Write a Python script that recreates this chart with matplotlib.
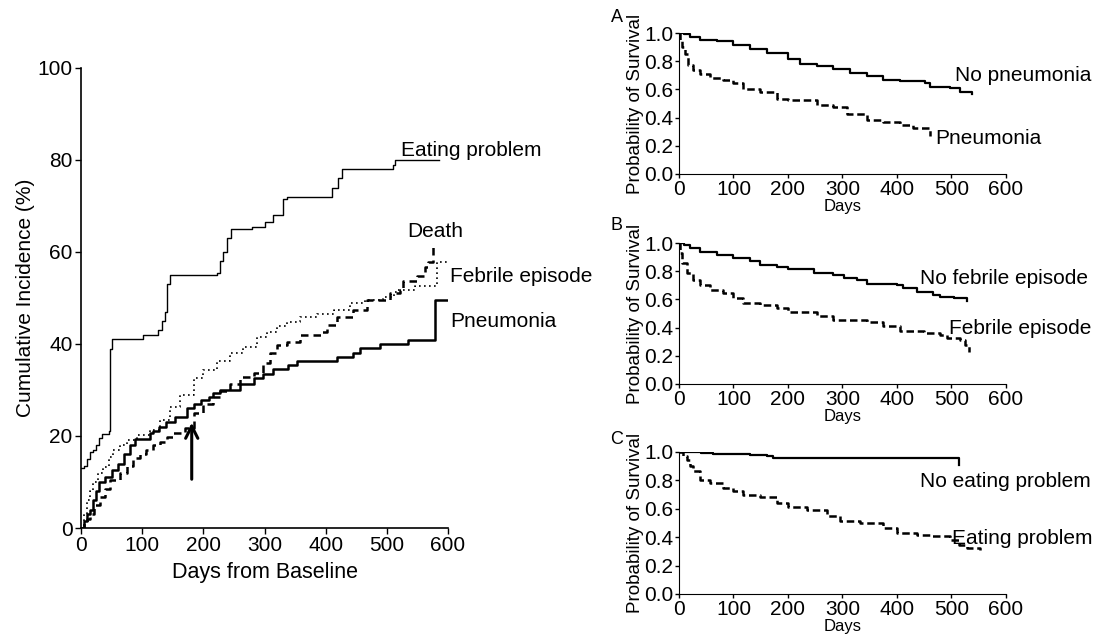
import matplotlib
matplotlib.use("Agg")
import matplotlib.pyplot as plt

plt.rcParams['font.family'] = ['Liberation Sans', 'DejaVu Sans']

# Panel izquierdo: incidencia acumulada (%)
eat_x = [0, 5, 10, 15, 20, 25, 30, 35, 45, 47, 50, 102, 126, 132, 138, 140, 145, 222, 228, 232,
         238, 246, 279, 300, 314, 330, 336, 404, 410, 420, 426, 502, 510, 513, 585]
eat_y = [13, 13.5, 15, 16.5, 17, 18, 19.5, 20.5, 21, 39, 41, 42, 43, 45, 47, 53, 55, 55.5, 58, 60,
         63, 65, 65.5, 66.5, 68, 71.5, 72, 72, 74, 76, 78, 78, 79, 80, 80]

pneu_x = [0, 5, 10, 15, 20, 25, 30, 40, 50, 60, 70, 80, 88, 113, 118, 128, 139, 154, 173, 184, 196,
          209, 216, 227, 260, 282, 298, 314, 339, 353, 418, 445, 456, 489, 535, 579, 598]
pneu_y = [0, 1.5, 3, 4, 6, 8, 10, 11, 12.5, 14, 16, 18, 19.3, 20.6, 21, 22, 23, 24.2, 26, 27, 27.8,
          28.5, 29.3, 30, 31.4, 32.5, 33.5, 34.5, 35.5, 36.2, 37.2, 38, 39.2, 39.9, 40.9, 49.6, 49.6]

death_x = [0, 5, 10, 15, 22, 31, 40, 47, 63, 75, 85, 97, 107, 118, 129, 140, 151, 170, 185, 200,
           216, 227, 244, 260, 282, 298, 309, 320, 336, 358, 393, 402, 418, 445, 467, 505, 521,
           527, 549, 562, 568, 576]
death_y = [0, 1, 2, 3, 5, 6.8, 8.5, 10.4, 12, 13.5, 15.2, 16, 17, 18, 18.8, 19.8, 20.6, 21.7, 25,
           27, 28.5, 29.8, 31.4, 32.9, 33.6, 35.8, 38, 39.8, 40.5, 42, 42.5, 44.1, 45.9, 47.4,
           49.6, 51, 51.7, 53.6, 54.7, 56.8, 57.8, 61.5]

feb_x = [0, 5, 10, 15, 20, 28, 36.5, 45, 53, 64, 75, 91, 113, 129, 146, 162, 184, 200, 222, 244,
         265, 287, 304, 320, 336, 358, 385, 413, 440, 464, 494, 511, 516, 546, 582, 598]
feb_y = [0, 3, 6, 8, 10, 12, 13.3, 15.5, 17, 18, 19.1, 20.2, 21.3, 23.5, 26.4, 28.9, 32.5, 34.3,
         36.2, 38, 39.4, 41.6, 42.7, 43.8, 44.8, 45.9, 46.5, 47.4, 48.9, 49.6, 50.3, 51.4, 51.7,
         52.6, 57.9, 57.9]

# Panel A
noneu_x = [0, 10, 20, 38.6, 69, 100, 130, 161, 200, 222, 253, 283, 314, 345, 375, 406, 452, 461,
           498, 516, 538]
noneu_y = [1.0, 0.99, 0.975, 0.953, 0.943, 0.917, 0.889, 0.858, 0.818, 0.783, 0.764, 0.748,
           0.717, 0.693, 0.670, 0.658, 0.646, 0.618, 0.613, 0.583, 0.564]
sineu_x = [0, 2, 5, 11, 17, 26, 38.6, 57, 81, 100, 118, 149, 179, 200, 253, 283, 308, 345, 375,
           406, 430, 461]
sineu_y = [1.0, 0.95, 0.90, 0.854, 0.771, 0.736, 0.708, 0.682, 0.665, 0.642, 0.606, 0.583, 0.535,
           0.524, 0.488, 0.472, 0.429, 0.382, 0.366, 0.347, 0.323, 0.269]

# Panel B
nofeb_x = [0, 10, 20, 38.6, 69, 100, 130, 149, 179, 200, 247, 283, 302, 326, 345, 400, 412, 437,
           467, 479, 504, 528]
nofeb_y = [1.0, 0.985, 0.964, 0.934, 0.917, 0.893, 0.874, 0.846, 0.829, 0.818, 0.787, 0.775,
           0.751, 0.739, 0.711, 0.704, 0.680, 0.656, 0.633, 0.616, 0.609, 0.592]
sifeb_x = [0, 2, 5, 14, 26, 38.6, 57, 81, 100, 118, 149, 179, 200, 253, 283, 345, 375, 406, 449,
           479, 492, 516, 525, 532]
sifeb_y = [1.0, 0.93, 0.858, 0.787, 0.739, 0.704, 0.668, 0.645, 0.609, 0.578, 0.562, 0.538,
           0.514, 0.483, 0.455, 0.443, 0.408, 0.379, 0.365, 0.348, 0.325, 0.313, 0.277, 0.230]

# Panel C
noeat_x = [0, 40, 63, 130, 161, 173, 513, 514]
noeat_y = [1.0, 0.993, 0.986, 0.981, 0.969, 0.958, 0.951, 0.911]
sieat_x = [0, 7, 14, 20, 26, 38.6, 57, 81, 100, 118, 149, 179, 200, 235, 271, 296, 333, 375, 400,
           437, 461, 498, 513, 528, 553]
sieat_y = [1.0, 0.975, 0.946, 0.90, 0.864, 0.805, 0.781, 0.746, 0.722, 0.699, 0.682, 0.640,
           0.612, 0.588, 0.546, 0.511, 0.499, 0.464, 0.428, 0.416, 0.405, 0.381, 0.346, 0.322,
           0.311]

fig = plt.figure(figsize=(10.99, 6.35), dpi=100)

# ---- panel izquierdo ----
ax = fig.add_axes([0.0737, 0.1685, 0.334, 0.7245])
ax.step(eat_x, eat_y, where='post', color='black', lw=1.0)
ax.step(pneu_x, pneu_y, where='post', color='black', lw=1.8)
ax.step(death_x, death_y, where='post', color='black', lw=1.8, linestyle=(0, (3, 2)))
ax.step(feb_x, feb_y, where='post', color='black', lw=1.2, linestyle=(0, (1, 2)))
ax.annotate('', xy=(181, 23.5), xytext=(181, 10),
            arrowprops=dict(arrowstyle='->', lw=2.2, color='black', mutation_scale=22))
ax.text(523, 82, 'Eating problem', fontsize=15, va='center', ha='left')
ax.text(533, 64.5, 'Death', fontsize=15, va='center', ha='left')
ax.text(603, 54.6, 'Febrile episode', fontsize=15, va='center', ha='left')
ax.text(603, 44.8, 'Pneumonia', fontsize=15, va='center', ha='left')
ax.set_xlim(0, 600)
ax.set_ylim(0, 100)
ax.set_xticks([0, 100, 200, 300, 400, 500, 600])
ax.set_yticks([0, 20, 40, 60, 80, 100])
ax.tick_params(labelsize=15, length=4, width=1, pad=2)
ax.set_xlabel('Days from Baseline', fontsize=15.5, labelpad=5)
ax.set_ylabel('Cumulative Incidence (%)', fontsize=15, labelpad=2)
ax.spines['top'].set_visible(False)
ax.spines['right'].set_visible(False)
for s in ['left', 'bottom']:
    ax.spines[s].set_linewidth(1.2)

# ---- paneles de supervivencia ----
paneles = [
    ('A', [0.6178, 0.726, 0.2975, 0.222], noneu_x, noneu_y, sineu_x, sineu_y,
     ('No pneumonia', 507, 0.70), ('Pneumonia', 470, 0.252), 17),
    ('B', [0.6178, 0.3953, 0.2975, 0.222], nofeb_x, nofeb_y, sifeb_x, sifeb_y,
     ('No febrile episode', 443, 0.751), ('Febrile episode', 495, 0.396), 225),
    ('C', [0.6178, 0.0646, 0.2975, 0.2236], noeat_x, noeat_y, sieat_x, sieat_y,
     ('No eating problem', 443, 0.793), ('Eating problem', 501, 0.393), 440),
]

for letra, pos, x1, y1, x2, y2, lab1, lab2, ypx in paneles:
    a = fig.add_axes(pos)
    a.step(x1, y1, where='post', color='black', lw=1.6)
    a.step(x2, y2, where='post', color='black', lw=1.8, linestyle=(0, (3, 1.5)))
    a.text(lab1[1], lab1[2], lab1[0], fontsize=15, va='center', ha='left')
    a.text(lab2[1], lab2[2], lab2[0], fontsize=15, va='center', ha='left')
    a.set_xlim(0, 600)
    a.set_ylim(0, 1.0)
    a.set_xticks([0, 100, 200, 300, 400, 500, 600])
    a.set_yticks([0.0, 0.2, 0.4, 0.6, 0.8, 1.0])
    a.set_yticklabels(['0.0', '0.2', '0.4', '0.6', '0.8', '1.0'])
    a.tick_params(labelsize=15, length=3, width=1, pad=1)
    a.set_xlabel('Days', fontsize=12, labelpad=0)
    a.set_ylabel('Probability of Survival', fontsize=13.5, labelpad=0)
    a.spines['top'].set_visible(False)
    a.spines['right'].set_visible(False)
    fig.text(617 / 1099, 1 - ypx / 635, letra, fontsize=13, ha='center', va='center')

fig.savefig('out.png', dpi=100)
